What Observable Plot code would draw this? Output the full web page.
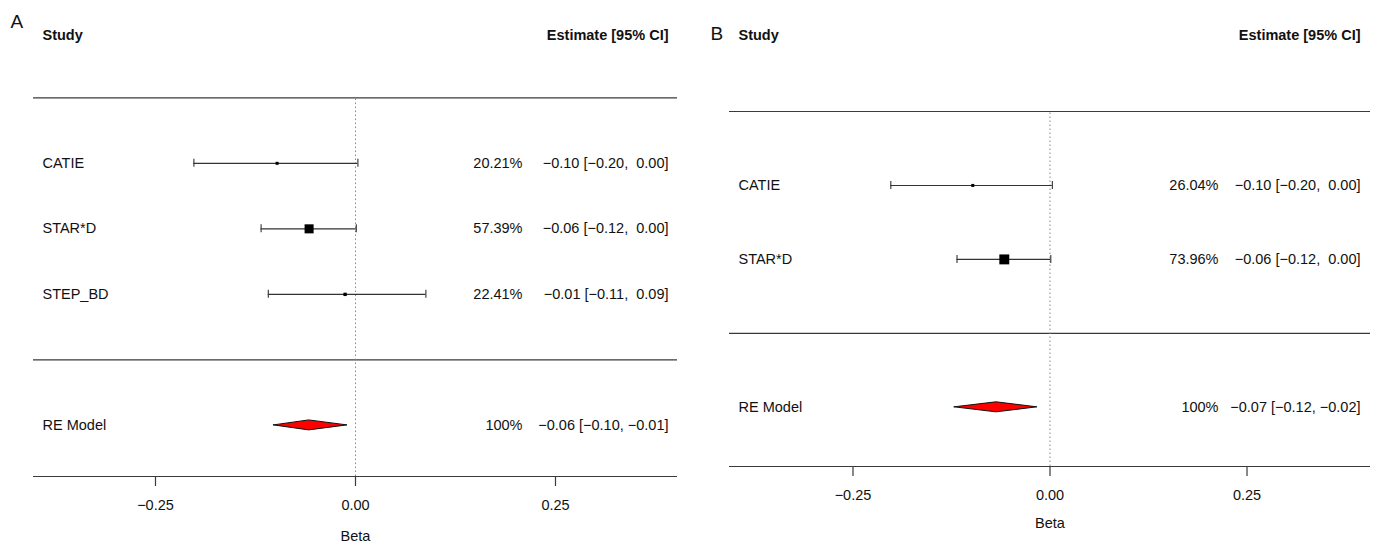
<!DOCTYPE html>
<html>
<head>
<meta charset="utf-8">
<script src="https://cdn.jsdelivr.net/npm/d3@7"></script>
<script src="https://cdn.jsdelivr.net/npm/@observablehq/plot@0.6"></script>
<style>
  html, body { margin: 0; padding: 0; background: #fff; }
  #wrap { display: flex; width: 1380px; height: 542px; }
  svg text { white-space: pre; }
</style>
</head>
<body>
<div id="wrap"></div>
<script>
// ---- Panel A data ----
const studiesA = ["CATIE", "STAR*D", "STEP_BD"];
const estA     = [-0.098, -0.058, -0.013];
const loA      = [-0.202, -0.118, -0.109];
const hiA      = [0.003, 0.001, 0.088];
const weightA  = [20.21, 57.39, 22.41];
const reA      = [-0.058, -0.102, -0.010]; // estimate, lower, upper

// ---- Panel B data ----
const studiesB = ["CATIE", "STAR*D"];
const estB     = [-0.098, -0.058];
const loB      = [-0.202, -0.118];
const hiB      = [0.003, 0.001];
const weightB  = [26.04, 73.96];
const reB      = [-0.068, -0.121, -0.016];

const tickValues = [-0.25, 0, 0.25];
const reLabel = "RE Model";
const headLeft = "Study";
const headRight = "Estimate [95% CI]";
const axisLabel = "Beta";

const fmt = d3.format(".2f");
const pad = v => (v >= 0 ? " " : "") + fmt(v);
const ci = (e, l, h) => `${pad(e)} [${pad(l)}, ${pad(h)}]`;

function forest(o) {
  const k = o.studies.length;
  const rows = o.studies.map((s, i) => ({
    study: s, est: o.est[i], lo: o.lo[i], hi: o.hi[i], w: o.weight[i], row: k - i,
    pct: o.weight[i].toFixed(2) + "%", ci: ci(o.est[i], o.lo[i], o.hi[i])
  }));
  const [re, rl, rh] = o.re;
  const reRow = -1;
  const summary = [{row: reRow, pct: "100%", ci: ci(re, rl, rh)}];
  const [x0, x1] = o.xDomain;
  const y0 = o.yDomain[0];
  const h = o.diamondH;
  const diamond = [
    {x: rl, y1: reRow, y2: reRow},
    {x: re, y1: reRow - h, y2: reRow + h},
    {x: rh, y1: reRow, y2: reRow}
  ];
  return Plot.plot({
    width: 690, height: 542,
    marginLeft: o.marginLeft, marginRight: o.marginRight,
    marginTop: 20, marginBottom: o.marginBottom,
    x: {domain: o.xDomain},
    y: {domain: o.yDomain, axis: null},
    r: {type: "linear", domain: d3.extent(o.weight), range: o.sizeRange},
    style: {fontFamily: "'Liberation Sans', Arial, sans-serif", fontSize: "14.5px", color: "#111", background: "#fff"},
    marks: [
      Plot.ruleY([k + 1, 0, y0], {stroke: "#3a3a3a", strokeWidth: 1.2}),
      Plot.ruleX([0], {y1: y0, y2: k + 1, stroke: "#888", strokeDasharray: "1.5,2.5"}),
      Plot.ruleY(rows, {y: "row", x1: "lo", x2: "hi", stroke: "#333", strokeWidth: 1.1}),
      Plot.ruleX(rows, {x: "lo", y1: "row", y2: "row", insetTop: -4, insetBottom: -4, stroke: "#333", strokeWidth: 1.1}),
      Plot.ruleX(rows, {x: "hi", y1: "row", y2: "row", insetTop: -4, insetBottom: -4, stroke: "#333", strokeWidth: 1.1}),
      Plot.dot(rows, {x: "est", y: "row", r: "w", symbol: "square", fill: "#000", stroke: "none"}),
      Plot.areaY(diamond, {x: "x", y1: "y1", y2: "y2", fill: "#ff0000", stroke: "#111", strokeWidth: 1}),
      Plot.text(rows, {x: x0, y: "row", text: "study", textAnchor: "start", dx: 9, fill: "#111"}),
      Plot.text([reLabel], {x: x0, y: reRow, textAnchor: "start", dx: 9, fill: "#111"}),
      Plot.text(rows.concat(summary), {x: x1, y: "row", text: "pct", textAnchor: "end", dx: o.pctDx, fill: "#111"}),
      Plot.text(rows.concat(summary), {x: x1, y: "row", text: "ci", textAnchor: "end", dx: o.estDx, fill: "#111"}),
      Plot.text([headLeft], {x: x0, y: k + 2, textAnchor: "start", dx: 9, dy: o.headDy, fontWeight: "bold", fill: "#111"}),
      Plot.text([headRight], {x: x1, y: k + 2, textAnchor: "end", dx: o.estDx, dy: o.headDy, fontWeight: "bold", fill: "#111"}),
      Plot.text([o.label], {frameAnchor: "top-left", textAnchor: "start", dx: o.labelDx, dy: o.labelDy, fontSize: 19, fill: "#111"}),
      Plot.axisX({ticks: tickValues, tickFormat: fmt, tickSize: 10, tickPadding: 13, stroke: "#3a3a3a", strokeWidth: 1.2,
        label: axisLabel, labelAnchor: "center", labelArrow: "none", labelOffset: o.labelOffset, fill: "#111"})
    ]
  });
}

const wrap = document.getElementById("wrap");
wrap.append(forest({
  studies: studiesA, est: estA, lo: loA, hi: hiA, weight: weightA, re: reA,
  marginLeft: 33, marginRight: 13, marginBottom: 66,
  xDomain: [-0.4025, 0.4025], yDomain: [-1.78, 5.18],
  sizeRange: [1.7, 5.1], diamondH: 0.076, headDy: 3,
  pctDx: -155, estDx: -9, label: "A", labelDx: -23, labelDy: -6, labelOffset: 64
}));
wrap.append(forest({
  studies: studiesB, est: estB, lo: loB, hi: hiB, weight: weightB, re: reB,
  marginLeft: 39, marginRight: 10, marginBottom: 76,
  xDomain: [-0.4067, 0.4067], yDomain: [-1.8, 4.23],
  sizeRange: [1.7, 5.6], diamondH: 0.068, headDy: -2,
  pctDx: -152, estDx: -10, label: "B", labelDx: -19, labelDy: 6, labelOffset: 61
}));
</script>
</body>
</html>
